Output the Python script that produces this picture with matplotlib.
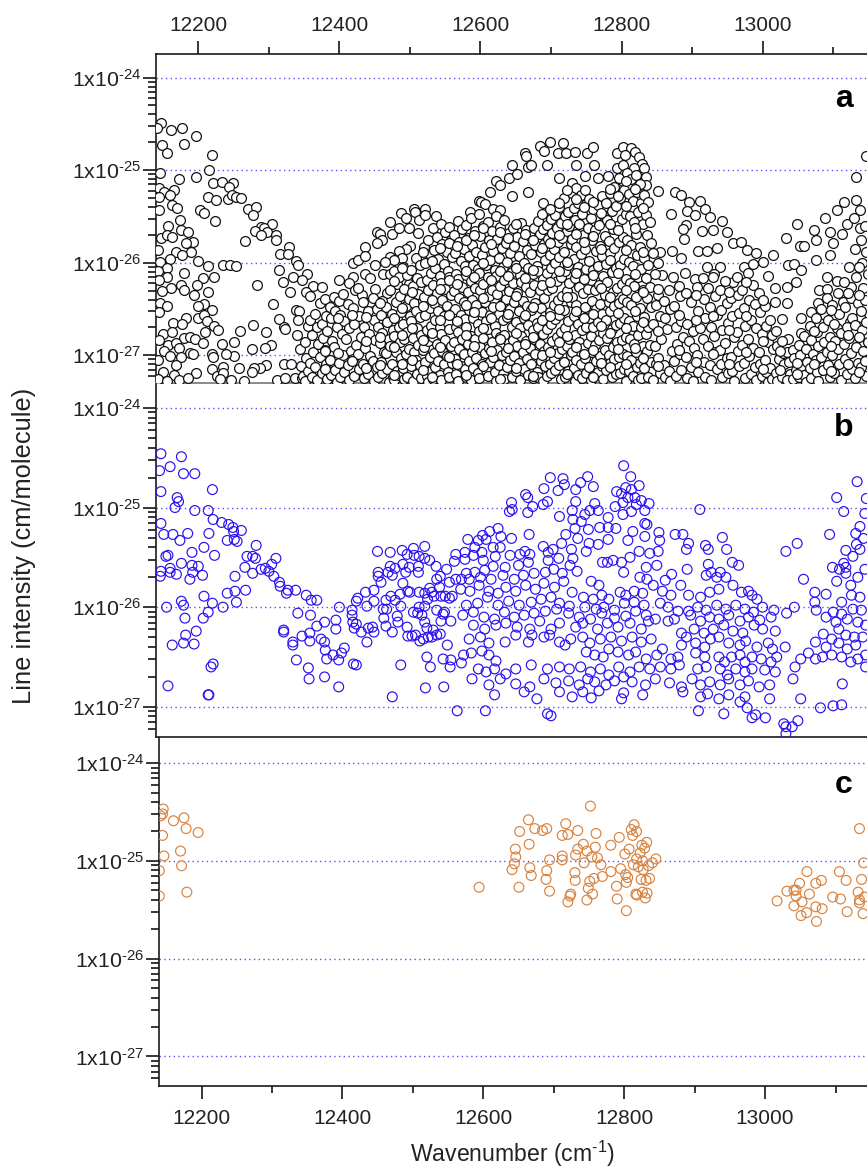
import matplotlib
matplotlib.use('Agg')
import matplotlib.pyplot as plt
from matplotlib.ticker import FixedLocator, LogLocator, NullFormatter

plt.rcParams['font.family'] = ['Liberation Sans', 'DejaVu Sans']
plt.rcParams['mathtext.fontset'] = 'custom'
plt.rcParams['mathtext.rm'] = 'Liberation Sans'
plt.rcParams['mathtext.default'] = 'regular'

# all intensities are stored as log10(cm/molecule)
a_points = [
(12147,-24.49),(12142,-24.55),(12161,-24.57),(12177,-24.54),(12196,-24.63),(12179,-24.72),(12148,-24.73),(12156,-24.82),
(12220,-24.84),(12215,-25.00),(12146,-25.03),(12173,-25.10),(12196,-25.07),(12221,-25.14),(12233,-25.13),(12249,-25.14),
(12243,-25.18),(12166,-25.21),(12144,-25.19),(12151,-25.24),(12144,-25.29),(12160,-25.27),(12214,-25.29),(12225,-25.32),
(12242,-25.31),(12248,-25.27),(12254,-25.29),(12261,-25.30),(12163,-25.38),(12170,-25.41),(12144,-25.43),(12202,-25.43),
(12208,-25.46),(12224,-25.55),(12271,-25.42),(12282,-25.40),(12278,-25.49),(12157,-25.60),(12174,-25.54),(12304,-25.58),
(12289,-25.61),(12293,-25.63),(12280,-25.66),(12297,-25.67),(12289,-25.70),(12310,-25.70),(12175,-25.65),(12185,-25.67),
(12147,-25.73),(12155,-25.70),(12162,-25.72),(12266,-25.77),(12310,-25.76),(12192,-25.78),(12182,-25.79),(12328,-25.83),
(12143,-25.86),(12169,-25.88),(12190,-25.88),(12177,-25.92),(12316,-25.91),(12327,-25.91),(12339,-25.98),(12160,-25.96),
(12146,-25.99),(12200,-25.98),(12342,-26.02),(12214,-26.04),(12235,-26.03),(12245,-26.03),(12254,-26.04),(12155,-26.06),
(12314,-26.08),(12143,-26.09),(12180,-26.11),(12354,-26.12),(12222,-26.16),(12156,-26.16),(12206,-26.17),(12334,-26.15),
(12320,-26.21),(12347,-26.19),(12144,-26.19),(12283,-26.24),(12176,-26.24),(12198,-26.24),(12161,-26.27),(12180,-26.29),
(12148,-26.31),(12330,-26.32),(12214,-26.32),(12194,-26.35),(12363,-26.25),(12375,-26.26),(12352,-26.32),(12358,-26.36),
(12306,-26.45),(12146,-26.44),(12155,-26.47),(12208,-26.45),(12200,-26.47),(12220,-26.51),(12144,-26.53),(12338,-26.51),
(12343,-26.52),(12183,-26.60),(12200,-26.60),(12208,-26.56),(12213,-26.63),(12164,-26.65),(12177,-26.66),(12315,-26.61),
(12341,-26.62),(12277,-26.67),(12222,-26.68),(12321,-26.70),(12323,-26.72),(12228,-26.73),(12209,-26.75),(12259,-26.74),
(12296,-26.75),(12355,-26.68),(12150,-26.77),(12163,-26.75),(12340,-26.78),(12144,-26.84),(12180,-26.81),(12188,-26.80),
(12195,-26.82),(12157,-26.89),(12168,-26.87),(12207,-26.87),(12234,-26.88),(12250,-26.86),(12303,-26.89),(12295,-26.92),
(12276,-26.93),(12151,-26.95),(12172,-26.92),(12188,-26.98),(12193,-26.99),(12219,-26.99),(12250,-27.01),(12143,-27.05),
(12160,-27.01),(12175,-27.02),(12221,-27.02),(12239,-26.99),(12169,-27.11),(12235,-27.13),(12257,-27.14),(12296,-27.11),
(12287,-27.14),(12279,-27.14),(12276,-27.18),(12150,-27.18),(12196,-27.19),(12165,-27.21),(12219,-27.15),(12226,-27.22),
(12235,-27.19),(12143,-27.26),(12155,-27.28),(12173,-27.27),(12186,-27.25),(12231,-27.26),(12247,-27.27),(12265,-27.28),
(12311,-27.27),(12323,-27.25),(12337,-27.25),(12347,-27.25),(12321,-27.09),(12332,-27.09),
(12400,-26.19),(12419,-26.15),(12413,-26.22),(12419,-26.00),(12426,-25.97),(12437,-25.83),(12437,-25.93),(12454,-25.67),
(12457,-25.69),(12460,-25.76),(12454,-25.79),(12472,-25.56),(12474,-25.69),(12484,-25.62),(12488,-25.46),(12495,-25.52),
(12499,-25.63),(12506,-25.42),(12507,-25.45),(12513,-25.54),(12521,-25.42),(12522,-25.49),(12537,-25.50),(12512,-25.68),
(12500,-25.82),(12495,-25.85),(12484,-25.87),(12489,-25.95),(12472,-25.94),(12477,-25.97),(12465,-25.99),(12451,-26.03),
(12436,-26.12),(12444,-26.17),(12462,-26.12),(12472,-26.12),(12451,-26.28),(12422,-26.30),(12432,-26.35),(12444,-26.42),
(12467,-26.33),(12460,-26.41),(12481,-26.23),(12498,-26.23),
(12585,-25.45),(12598,-25.33),(12601,-25.34),(12606,-25.37),(12613,-25.24),(12618,-25.42),(12627,-25.43),(12622,-25.12),
(12628,-25.16),(12641,-25.08),(12652,-25.04),(12644,-24.95),(12668,-24.97),(12672,-24.95),(12663,-24.82),(12665,-24.85),
(12684,-24.74),(12690,-24.79),(12694,-24.95),(12699,-24.70),(12710,-24.81),(12717,-24.71),(12721,-24.81),(12734,-24.80),
(12751,-24.81),(12759,-24.75),(12736,-24.94),(12761,-24.95),(12748,-25.06),(12712,-25.09),(12644,-25.28),(12668,-25.24),
(12689,-25.35),(12730,-25.14),(12767,-25.09),(12781,-25.06),(12794,-24.98),(12793,-24.82),(12802,-24.75),(12813,-24.76),
(12805,-24.84),(12819,-24.80),(12825,-24.86),(12829,-24.93),(12832,-24.98),(12817,-24.98),(12802,-25.12),(12834,-25.07),
(12835,-25.16),(12852,-25.23),(12876,-25.24),(12885,-25.27),(12896,-25.34),(12911,-25.33),(12919,-25.42),(12870,-25.47),
(12893,-25.44),(12904,-25.48),(12925,-25.51),(12943,-25.55),(12892,-25.59),(12887,-25.64),(12888,-25.74),(12914,-25.66),
(12929,-25.65),(12949,-25.67),(12909,-25.87),(12921,-25.87),(12935,-25.84),(12958,-25.79),(12969,-25.78),(12978,-25.86),
(12990,-25.90),(13015,-25.92),(13000,-25.99),(12885,-25.95),(12871,-25.87),(12854,-25.88),(12857,-26.13),(12873,-26.15),
(12890,-26.11),(12904,-26.18),(12921,-26.05),(12939,-26.05),(12958,-26.21),(12973,-26.05),(12987,-26.01),(13008,-26.14),
(13033,-25.73),(13049,-25.58),(13053,-25.82),(13058,-25.82),(13073,-25.65),(13076,-25.76),(13088,-25.52),(13106,-25.43),
(13115,-25.34),(13096,-25.67),(13100,-25.79),(13119,-25.58),(13133,-25.32),(13133,-25.07),(13147,-24.85),(13138,-25.43),
(13129,-25.52),(13138,-25.63),(13112,-25.69),(13096,-25.92),(13076,-25.97),(13036,-26.03),(13045,-26.01),(13054,-26.08),
(13047,-26.21),(13034,-26.26),(13017,-26.27),(13034,-26.44),(13017,-26.42),(13027,-26.61),(13054,-26.60),(13068,-26.53),
(13055,-26.76),(13036,-26.83),(13091,-26.15),(13105,-26.20),(13080,-26.30),(13091,-26.28),(13078,-26.44),(13114,-26.42),
(13126,-26.26),(13088,-26.57),(13105,-26.71),(13124,-26.64),(13138,-26.59),(13145,-26.33),
]

# dense part of panel a, listed per wavenumber column
a_columns = {
12346:[-26.93,-27.12,-27.22],12353:[-26.86,-27.03,-27.17,-27.28],12361:[-26.62,-26.78,-26.97,-27.08,-27.24],
12368:[-26.55,-26.70,-26.88,-27.13,-27.27],12375:[-26.44,-26.66,-26.81,-27.02,-27.19],12381:[-26.39,-26.58,-26.74,-26.94,-27.10,-27.26],
12388:[-26.48,-26.60,-26.85,-27.05,-27.21],12394:[-26.37,-26.52,-26.69,-26.91,-27.16,-27.29],12401:[-26.41,-26.56,-26.77,-27.08,-27.24],
12407:[-26.34,-26.63,-26.83,-27.00,-27.18],12414:[-26.45,-26.71,-26.95,-27.11,-27.27],12421:[-26.49,-26.66,-26.89,-27.04,-27.22],
12428:[-26.27,-26.58,-26.80,-26.99,-27.15],12435:[-26.42,-26.70,-26.92,-27.09,-27.25],12442:[-26.52,-26.77,-27.01,-27.20],
12449:[-26.38,-26.62,-26.84,-27.06,-27.28],12455:[-26.50,-26.69,-26.87,-27.13,-27.23],12461:[-26.57,-26.76,-26.96,-27.07,-27.19],
12468:[-26.48,-26.64,-26.82,-26.98,-27.15,-27.29],12474:[-26.30,-26.55,-26.73,-26.90,-27.10,-27.24],12480:[-26.09,-26.42,-26.61,-26.79,-26.97,-27.17,-27.27],
12486:[-26.16,-26.36,-26.53,-26.70,-26.86,-27.03,-27.21],12492:[-26.05,-26.28,-26.47,-26.66,-26.83,-26.99,-27.14,-27.26],12498:[-26.13,-26.39,-26.58,-26.75,-26.93,-27.09,-27.23],
12504:[-26.08,-26.25,-26.44,-26.63,-26.81,-26.96,-27.12,-27.28],12510:[-25.95,-26.17,-26.34,-26.52,-26.71,-26.89,-27.05,-27.20],12516:[-26.03,-26.21,-26.41,-26.59,-26.78,-26.94,-27.11,-27.25],
12522:[-25.83,-26.00,-26.19,-26.37,-26.56,-26.73,-26.91,-27.07,-27.22],12528:[-25.76,-25.91,-26.11,-26.30,-26.49,-26.68,-26.85,-27.02,-27.17,-27.29],12534:[-25.63,-25.86,-26.06,-26.24,-26.44,-26.62,-26.80,-26.98,-27.13,-27.26],
12540:[-25.72,-25.96,-26.14,-26.33,-26.52,-26.70,-26.88,-27.06,-27.21],12546:[-25.58,-25.80,-26.01,-26.22,-26.40,-26.58,-26.77,-26.95,-27.10,-27.27],12552:[-25.67,-25.89,-26.09,-26.28,-26.47,-26.65,-26.84,-27.01,-27.18],
12558:[-25.61,-25.75,-25.94,-26.15,-26.35,-26.54,-26.72,-26.90,-27.08,-27.24],12564:[-25.70,-25.90,-26.12,-26.31,-26.50,-26.69,-26.86,-27.04,-27.20],12570:[-25.55,-25.78,-25.98,-26.18,-26.38,-26.57,-26.75,-26.93,-27.12,-27.28],
12576:[-25.64,-25.85,-26.04,-26.26,-26.43,-26.61,-26.82,-26.99,-27.15],12582:[-25.59,-25.73,-25.93,-26.13,-26.32,-26.51,-26.70,-26.88,-27.06,-27.23],12588:[-25.52,-25.81,-26.02,-26.20,-26.40,-26.60,-26.79,-26.97,-27.14,-27.27],
12594:[-25.66,-25.88,-26.07,-26.27,-26.46,-26.66,-26.83,-27.03,-27.19],12600:[-25.47,-25.71,-25.92,-26.11,-26.30,-26.53,-26.74,-26.91,-27.09,-27.25],12606:[-25.60,-25.83,-26.03,-26.23,-26.42,-26.63,-26.81,-26.98,-27.16],
12612:[-25.56,-25.76,-25.97,-26.16,-26.36,-26.56,-26.72,-26.92,-27.07,-27.22],12618:[-25.66,-25.87,-26.08,-26.29,-26.48,-26.68,-26.86,-27.02,-27.18],12624:[-25.50,-25.74,-25.95,-26.14,-26.34,-26.55,-26.76,-26.94,-27.11,-27.28],
12630:[-25.61,-25.84,-26.05,-26.25,-26.45,-26.62,-26.80,-27.00,-27.20],12636:[-25.54,-25.79,-25.99,-26.19,-26.39,-26.59,-26.78,-26.96,-27.13,-27.26],12642:[-25.68,-25.90,-26.10,-26.31,-26.50,-26.69,-26.87,-27.05,-27.23],
12648:[-25.63,-25.82,-26.02,-26.22,-26.43,-26.64,-26.84,-27.01,-27.17],12654:[-25.72,-25.93,-26.13,-26.33,-26.52,-26.71,-26.90,-27.08,-27.27],12660:[-25.57,-25.77,-26.00,-26.21,-26.41,-26.60,-26.79,-26.97,-27.15],
12666:[-25.65,-25.86,-26.06,-26.26,-26.47,-26.67,-26.85,-27.04,-27.21],12672:[-25.71,-25.91,-26.12,-26.32,-26.51,-26.73,-26.92,-27.10,-27.25],12678:[-25.62,-25.81,-26.04,-26.24,-26.44,-26.65,-26.83,-26.99,-27.18],
12684:[-25.55,-25.69,-25.89,-26.09,-26.29,-26.49,-26.70,-26.88,-27.06,-27.24],12690:[-25.64,-25.80,-25.97,-26.18,-26.38,-26.58,-26.77,-26.95,-27.12,-27.28],12696:[-25.59,-25.74,-25.92,-26.11,-26.30,-26.53,-26.72,-26.91,-27.09,-27.22],
12702:[-25.53,-25.68,-25.85,-26.06,-26.27,-26.46,-26.66,-26.85,-27.03,-27.19],12708:[-25.48,-25.63,-25.78,-26.00,-26.20,-26.40,-26.61,-26.80,-26.98,-27.16],12714:[-25.40,-25.57,-25.73,-25.94,-26.15,-26.36,-26.56,-26.75,-26.93,-27.11,-27.26],
12720:[-25.30,-25.50,-25.66,-25.88,-26.09,-26.31,-26.51,-26.71,-26.90,-27.07,-27.23],12726:[-25.45,-25.60,-25.80,-26.02,-26.22,-26.43,-26.63,-26.82,-27.00,-27.17],12732:[-25.25,-25.41,-25.54,-25.74,-25.96,-26.17,-26.37,-26.58,-26.78,-26.96,-27.14,-27.28],
12738:[-25.19,-25.35,-25.58,-25.83,-26.05,-26.26,-26.46,-26.66,-26.86,-27.05,-27.21],12744:[-25.27,-25.47,-25.70,-25.91,-26.11,-26.33,-26.54,-26.73,-26.92,-27.10,-27.25],12750:[-25.22,-25.37,-25.62,-25.85,-26.07,-26.28,-26.48,-26.69,-26.87,-27.03,-27.19],
12756:[-25.31,-25.52,-25.76,-25.98,-26.19,-26.41,-26.60,-26.79,-26.97,-27.13,-27.27],12762:[-25.42,-25.65,-25.87,-26.08,-26.30,-26.50,-26.70,-26.89,-27.06,-27.22],12768:[-25.38,-25.59,-25.82,-26.04,-26.24,-26.45,-26.64,-26.84,-27.01,-27.18],
12774:[-25.28,-25.49,-25.71,-25.93,-26.14,-26.35,-26.55,-26.76,-26.94,-27.12,-27.26],12780:[-25.36,-25.54,-25.77,-26.01,-26.21,-26.42,-26.62,-26.81,-27.00,-27.16],12786:[-25.25,-25.44,-25.64,-25.90,-26.10,-26.32,-26.52,-26.72,-26.91,-27.08,-27.24],
12792:[-25.18,-25.39,-25.60,-25.84,-26.06,-26.27,-26.47,-26.67,-26.86,-27.04,-27.20],12798:[-25.08,-25.30,-25.53,-25.78,-26.02,-26.23,-26.44,-26.65,-26.84,-27.02,-27.19],12804:[-24.95,-25.21,-25.47,-25.72,-25.96,-26.18,-26.39,-26.60,-26.80,-26.99,-27.15,-27.28],
12810:[-25.03,-25.26,-25.50,-25.76,-25.99,-26.22,-26.43,-26.63,-26.83,-27.01,-27.17],12816:[-25.10,-25.33,-25.56,-25.81,-26.04,-26.25,-26.46,-26.68,-26.88,-27.05,-27.22],12822:[-25.05,-25.24,-25.45,-25.69,-25.92,-26.16,-26.37,-26.58,-26.78,-26.96,-27.13,-27.27],
12828:[-25.15,-25.35,-25.58,-25.83,-26.07,-26.29,-26.49,-26.70,-26.90,-27.08,-27.25],12834:[-25.27,-25.48,-25.70,-25.95,-26.17,-26.38,-26.59,-26.77,-26.95,-27.14],12840:[-25.34,-25.56,-25.79,-26.03,-26.26,-26.48,-26.69,-26.89,-27.07,-27.23],
12847:[-25.90,-26.12,-26.46,-26.66,-26.90,-27.10,-27.27],12854:[-26.35,-26.58,-26.82,-27.03,-27.19],12862:[-26.41,-26.60,-26.72,-27.11,-27.24],12869:[-26.30,-26.50,-26.95,-27.17,-27.28],
12877:[-26.47,-26.70,-26.88,-27.06,-27.22],12885:[-26.36,-26.63,-26.80,-26.99,-27.16],12893:[-26.33,-26.66,-26.85,-27.02,-27.25],12901:[-26.43,-26.74,-26.92,-27.13,-27.28],
12909:[-26.26,-26.52,-26.71,-27.00,-27.18],12917:[-26.17,-26.39,-26.60,-26.83,-27.07,-27.24],12925:[-26.27,-26.48,-26.69,-26.90,-27.11,-27.27],12933:[-26.12,-26.36,-26.56,-26.79,-26.97,-27.15],
12941:[-26.30,-26.51,-26.73,-26.94,-27.09,-27.23],12949:[-26.20,-26.44,-26.65,-26.87,-27.03,-27.19],12957:[-26.38,-26.58,-26.80,-27.02,-27.17,-27.28],12965:[-26.16,-26.35,-26.54,-26.75,-26.95,-27.12],
12973:[-26.29,-26.49,-26.68,-26.89,-27.08,-27.25],12981:[-26.11,-26.40,-26.62,-26.83,-27.01,-27.20],12989:[-26.24,-26.45,-26.71,-26.92,-27.13,-27.27],12997:[-26.33,-26.53,-26.77,-26.97,-27.10,-27.22],
13005:[-26.47,-26.68,-26.86,-27.05,-27.18,-27.29],13013:[-26.62,-26.78,-26.93,-27.14,-27.26],13021:[-26.74,-26.90,-27.04,-27.19,-27.28],13029:[-26.85,-26.98,-27.10,-27.23],
13037:[-26.97,-27.07,-27.20,-27.27],13045:[-26.94,-27.03,-27.16,-27.26],13053:[-26.89,-27.00,-27.12,-27.24],13061:[-26.79,-26.93,-27.07,-27.21,-27.29],
13069:[-26.68,-26.84,-26.99,-27.14,-27.25],13077:[-26.60,-26.75,-26.90,-27.05,-27.18,-27.28],13085:[-26.50,-26.69,-26.86,-27.02,-27.16],13093:[-26.38,-26.62,-26.80,-26.96,-27.11,-27.24],
13101:[-26.46,-26.66,-26.85,-27.00,-27.19],13109:[-26.33,-26.55,-26.76,-26.93,-27.09,-27.27],13117:[-26.21,-26.48,-26.70,-26.88,-27.04,-27.20],13125:[-26.05,-26.38,-26.60,-26.81,-26.98,-27.15],
13133:[-25.85,-26.15,-26.44,-26.67,-26.91,-27.08,-27.25],13141:[-25.75,-26.00,-26.27,-26.52,-26.73,-26.95,-27.13],13147:[-25.60,-25.88,-26.12,-26.40,-26.64,-26.86,-27.06,-27.22],
}

# more lines in the crowded band of panel a
a_columns_more = {
12503:[-26.32,-26.71,-27.05],12519:[-25.89,-26.47,-26.84,-27.16],12531:[-25.98,-26.40,-26.76,-27.24],12543:[-25.84,-26.28,-26.62,-26.91],
12555:[-25.79,-26.19,-26.57,-27.02],12567:[-25.82,-26.23,-26.63,-27.10],12579:[-25.75,-26.09,-26.46,-26.78,-27.21],12591:[-25.70,-26.15,-26.53,-26.90],
12603:[-25.62,-26.00,-26.38,-26.71,-27.12],12615:[-25.80,-26.19,-26.60,-26.95],12627:[-25.67,-26.09,-26.47,-26.83,-27.26],12639:[-25.73,-26.14,-26.55,-26.92],
12651:[-25.58,-26.06,-26.36,-26.76,-27.14],12663:[-25.69,-26.17,-26.56,-26.88],12675:[-25.76,-26.08,-26.48,-26.80,-27.22],12687:[-25.47,-25.84,-26.24,-26.62,-27.00],
12699:[-25.42,-25.79,-26.21,-26.58,-26.97],12711:[-25.36,-25.70,-26.09,-26.50,-26.86],12723:[-25.22,-25.58,-25.99,-26.37,-26.79,-27.20],12735:[-25.31,-25.69,-26.11,-26.52,-26.91],
12747:[-25.40,-25.78,-26.18,-26.60,-26.99],12759:[-25.34,-25.71,-26.13,-26.55,-26.94,-27.24],12771:[-25.46,-25.85,-26.27,-26.68,-27.08],12783:[-25.20,-25.58,-25.97,-26.37,-26.76,-27.13],
12795:[-25.28,-25.65,-26.11,-26.54,-26.93],12807:[-25.12,-25.39,-25.86,-26.30,-26.71,-27.10],12819:[-25.20,-25.63,-26.12,-26.52,-26.92],12831:[-25.41,-25.88,-26.32,-26.64,-27.03],
12380:[-26.95,-27.15],12398:[-26.60,-26.98],12418:[-26.56,-27.06],12438:[-26.59,-26.85,-27.14],12458:[-26.44,-26.80,-27.11],12477:[-26.20,-26.60,-26.91,-27.21],12489:[-26.06,-26.49,-26.78,-27.09],
12851:[-26.00,-26.28,-26.74,-27.12],12881:[-26.25,-26.57,-26.94],12905:[-26.35,-26.62,-27.07],12929:[-26.15,-26.58,-26.99],12953:[-26.32,-26.73,-27.10],12977:[-26.21,-26.58,-26.96],
13000:[-26.40,-26.85,-27.15],13025:[-26.95,-27.16],13049:[-27.08,-27.20],13073:[-26.74,-27.10],13097:[-26.51,-26.90,-27.17],13121:[-26.33,-26.78,-27.10],13137:[-26.05,-26.35,-26.80,-27.18],
}

b_points = [
(12147,-24.46),(12145,-24.63),(12160,-24.59),(12176,-24.49),(12179,-24.66),(12195,-24.66),(12147,-24.84),(12170,-24.90),
(12172,-24.94),(12167,-25.00),(12195,-25.03),(12220,-24.82),(12214,-25.03),(12221,-25.12),(12233,-25.15),(12243,-25.17),
(12249,-25.20),(12250,-25.24),(12261,-25.23),(12241,-25.33),(12251,-25.32),(12255,-25.34),(12282,-25.38),(12147,-25.16),
(12151,-25.27),(12164,-25.27),(12174,-25.33),(12185,-25.26),(12215,-25.26),(12208,-25.40),(12191,-25.45),(12223,-25.48),
(12154,-25.49),(12157,-25.48),(12176,-25.56),(12191,-25.58),(12200,-25.59),(12160,-25.61),(12147,-25.64),(12146,-25.69),
(12160,-25.65),(12169,-25.67),(12192,-25.65),(12188,-25.72),(12206,-25.68),(12269,-25.49),(12277,-25.49),(12281,-25.51),
(12266,-25.60),(12277,-25.66),(12289,-25.62),(12295,-25.61),(12310,-25.51),(12304,-25.57),(12300,-25.64),(12307,-25.69),
(12315,-25.75),(12316,-25.79),(12325,-25.86),(12327,-25.83),(12338,-25.83),(12353,-25.88),(12360,-25.93),(12368,-25.93),
(12252,-25.69),(12241,-25.86),(12252,-25.84),(12267,-25.83),(12254,-25.95),(12235,-26.00),(12208,-25.89),(12220,-25.96),
(12176,-25.94),(12179,-25.98),(12155,-26.00),(12214,-26.05),(12207,-26.11),(12181,-26.11),(12197,-26.24),(12182,-26.28),
(12179,-26.36),(12163,-26.38),(12194,-26.37),(12221,-26.57),(12218,-26.60),(12157,-26.79),(12214,-26.88),(12215,-26.88),
(12321,-26.23),(12321,-26.25),(12341,-26.06),(12359,-26.08),(12368,-26.19),(12379,-26.15),(12358,-26.26),(12347,-26.29),
(12358,-26.34),(12334,-26.35),(12334,-26.38),(12374,-26.32),(12379,-26.35),(12380,-26.43),(12382,-26.52),(12391,-26.48),
(12403,-26.46),(12407,-26.41),(12399,-26.53),(12339,-26.53),(12356,-26.61),(12357,-26.72),(12379,-26.70),(12399,-26.80),
(12395,-26.13),(12395,-26.22),(12400,-26.00),(12418,-26.03),(12418,-26.08),(12419,-26.15),(12421,-26.21),(12424,-26.17),
(12431,-26.25),(12439,-26.35),(12441,-26.21),(12449,-26.25),(12447,-26.20),(12420,-26.57),(12424,-26.58),(12426,-25.91),
(12424,-25.94),(12437,-25.85),(12439,-25.99),(12449,-25.94),(12449,-25.83),(12454,-25.44),(12455,-25.65),(12455,-25.69),
(12459,-25.75),(12472,-25.45),(12466,-25.93),(12462,-26.02),(12467,-26.02),(12463,-26.11),(12466,-26.19),(12475,-26.25),
(12482,-26.09),(12483,-26.15),(12473,-25.89),(12479,-25.93),(12486,-25.87),(12490,-25.76),(12469,-25.65),(12472,-25.59),
(12475,-25.68),(12479,-25.61),(12490,-25.57),(12489,-25.43),(12496,-25.47),(12494,-25.65),(12499,-25.60),(12505,-25.41),
(12506,-25.48),(12513,-25.49),(12521,-25.39),(12521,-25.51),(12528,-25.53),(12537,-25.59),(12512,-25.59),(12512,-25.65),
(12500,-25.85),(12497,-25.84),(12513,-25.85),(12521,-25.86),(12487,-25.99),(12505,-26.05),(12511,-26.06),(12517,-26.08),
(12521,-25.99),(12513,-26.00),(12521,-26.15),(12496,-26.20),(12497,-26.29),(12503,-26.29),(12508,-26.28),(12514,-26.34),
(12519,-26.32),(12526,-26.30),(12531,-26.30),(12538,-26.28),(12543,-26.27),(12524,-26.21),(12533,-26.23),(12538,-26.03),
(12553,-26.38),(12524,-26.50),(12529,-26.60),(12547,-26.52),(12558,-26.53),(12557,-26.60),(12487,-26.58),(12522,-26.81),
(12548,-26.80),(12475,-26.90),(12567,-27.04),(12528,-25.81),(12538,-25.72),(12543,-25.69),(12552,-25.62),(12563,-25.54),
(12565,-25.47),(12556,-25.75),(12565,-25.72),(12550,-25.89),(12560,-25.89),(12544,-25.89),(12534,-25.89),(12525,-25.92),
(12531,-25.85),(12542,-25.80),(12556,-25.91),(12547,-26.07),(12558,-26.14),(12544,-26.14),(12549,-26.05),
(12803,-24.58),(12813,-24.69),(12825,-24.78),(12699,-24.70),(12717,-24.71),(12719,-24.77),(12690,-24.81),(12710,-24.83),
(12735,-24.82),(12742,-24.75),(12752,-24.69),(12760,-24.79),(12664,-24.87),(12667,-24.90),(12644,-24.95),(12645,-25.02),
(12641,-25.04),(12695,-24.94),(12689,-24.97),(12674,-24.99),(12667,-25.05),(12735,-24.94),(12762,-24.96),(12793,-24.84),
(12806,-24.80),(12814,-24.82),(12800,-24.86),(12809,-24.90),(12819,-24.90),(12828,-24.93),(12839,-24.96),(12821,-24.97),
(12802,-24.95),(12791,-24.99),(12833,-25.03),(12802,-25.07),(12814,-25.04),(12755,-25.03),(12767,-25.03),(12730,-25.03),
(12748,-25.07),(12712,-25.09),(12781,-25.10),(12731,-25.12),(12743,-25.14),(12734,-25.21),(12753,-25.22),(12769,-25.20),
(12781,-25.20),(12792,-25.21),(12833,-25.16),(12836,-25.17),(12911,-25.02),(12625,-25.21),(12613,-25.24),(12603,-25.28),
(12582,-25.32),(12629,-25.29),(12644,-25.31),(12669,-25.27),(12721,-25.27),(12738,-25.31),(12754,-25.36),(12767,-25.37),
(12781,-25.32),(12816,-25.24),(12833,-25.29),(12853,-25.25),(12876,-25.27),(12887,-25.27),(12943,-25.30),(12854,-25.33),
(12809,-25.33),(12597,-25.33),(12608,-25.32),(12895,-25.36),(12919,-25.38),(12923,-25.42),(12949,-25.42),(12892,-25.42),
(12852,-25.44),(13033,-25.44),(13049,-25.36),(13095,-25.27),(13134,-24.74),(13105,-24.90),(13115,-25.04),(13147,-24.91),
(13145,-25.06),(13138,-25.19),(13132,-25.26),(13133,-25.37),(13143,-25.31),(13118,-25.43),(13128,-25.49),(13115,-25.56),
(13138,-25.42),
(12592,-25.40),(12578,-25.45),(12602,-25.45),(12618,-25.40),(12628,-25.40),(12590,-25.48),(12578,-25.52),(12604,-25.53),
(12621,-25.49),(12642,-25.48),(12656,-25.47),(12670,-25.47),(12663,-25.44),(12689,-25.39),(12696,-25.45),(12703,-25.42),
(12715,-25.36),(12729,-25.42),(12750,-25.44),(12711,-25.51),(12731,-25.51),(12696,-25.53),(12668,-25.55),(12654,-25.58),
(12635,-25.60),(12618,-25.59),(12606,-25.63),(12592,-25.65),(12580,-25.66),(12573,-25.72),(12584,-25.72),(12600,-25.70),
(12615,-25.72),(12632,-25.68),(12648,-25.72),(12661,-25.68),(12676,-25.66),(12692,-25.65),(12704,-25.62),(12716,-25.66),
(12727,-25.58),(12737,-25.64),(12757,-25.74),(12768,-25.78),(12773,-25.55),(12780,-25.55),(12788,-25.53),(12800,-25.55),
(12812,-25.50),(12825,-25.44),(12840,-25.46),(12803,-25.65),(12835,-25.60),(12850,-25.58),(12862,-25.73),(12826,-25.70),
(12836,-25.72),(12871,-25.67),(12893,-25.62),(12923,-25.57),(12927,-25.65),(12940,-25.65),(12957,-25.55),(12966,-25.58),
(12920,-25.68),(12935,-25.70),(12948,-25.70),(12572,-25.82),(12585,-25.84),(12598,-25.78),(12612,-25.84),(12625,-25.86),
(12636,-25.80),(12650,-25.84),(12664,-25.78),(12678,-25.82),(12690,-25.76),(12705,-25.80),(12718,-25.74),(12730,-25.85),
(12746,-25.90),(12760,-25.92),(12772,-25.88),(12782,-25.92),(12798,-25.85),(12806,-25.88),(12818,-25.84),(12830,-25.86),
(12845,-25.78),(12858,-25.84),(12870,-25.88),(12884,-25.78),(12895,-25.88),(12912,-25.90),(12925,-25.85),(12938,-25.82),
(12958,-25.78),(12970,-25.85),(12980,-25.84),(12985,-25.88),(12992,-25.92),(12580,-25.98),(12596,-25.96),(12610,-25.90),
(12625,-25.98),(12640,-25.94),(12655,-25.98),(12672,-25.95),(12686,-25.92),(12700,-25.90),(12712,-25.96),(12726,-25.99),
(12748,-26.00),(12764,-26.02),(12775,-26.00),(12790,-26.03),(12804,-25.96),(12818,-25.95),(12832,-25.98),(12855,-25.96),
(12866,-26.00),(12880,-26.04),(12895,-26.04),(12908,-26.00),(12920,-26.03),(12935,-25.98),(12948,-26.02),(12962,-25.98),
(12975,-26.02),(12987,-26.05),(13000,-26.00),(13016,-26.03),(13034,-26.06),(13045,-26.00),(13058,-25.72),(13074,-25.85),
(13074,-25.95),(13076,-26.03),(13090,-25.87),(13099,-25.60),(13109,-25.62),(13118,-25.60),(13118,-25.66),(13105,-25.74),
(13125,-25.78),(13135,-25.70),(13145,-25.62),(13126,-25.88),(13138,-25.90),(13112,-25.95),(13100,-26.05),(13112,-26.07),
(13128,-26.02),(13140,-26.03),(13090,-26.10),(13104,-26.15),(13120,-26.12),(13135,-26.15),(13146,-26.18),(13086,-26.27),
(13098,-26.32),(13108,-26.22),(13118,-26.28),(13130,-26.30),(13142,-26.30),(13075,-26.35),(13090,-26.40),(13108,-26.36),
(13120,-26.42),(13132,-26.38),(13146,-26.48),(13065,-26.46),(13075,-26.52),(13085,-26.50),(13098,-26.48),(13112,-26.50),
(13125,-26.55),(13135,-26.52),(13146,-26.60),(13113,-26.77),(13054,-26.52),(13046,-26.60),(13043,-26.72),
(12575,-26.08),(12590,-26.05),(12605,-26.10),(12620,-26.12),(12634,-26.05),(12648,-26.10),(12662,-26.08),(12676,-26.06),
(12692,-26.04),(12708,-26.02),(12725,-26.06),(12740,-26.10),(12756,-26.12),(12772,-26.06),(12790,-26.11),(12806,-26.09),
(12820,-26.04),(12835,-26.08),(12848,-26.12),(12866,-26.14),(12898,-26.08),(12912,-26.14),(12925,-26.10),(12938,-26.12),
(12952,-26.08),(12968,-26.14),(12980,-26.10),(12996,-26.13),(13012,-26.10),(12590,-26.18),(12606,-26.22),(12622,-26.18),
(12636,-26.16),(12652,-26.20),(12670,-26.22),(12684,-26.14),(12700,-26.22),(12712,-26.16),(12735,-26.20),(12745,-26.16),
(12766,-26.22),(12780,-26.16),(12795,-26.20),(12812,-26.16),(12828,-26.22),(12838,-26.14),(12875,-26.12),(12885,-26.26),
(12903,-26.22),(12917,-26.26),(12930,-26.22),(12945,-26.18),(12958,-26.24),(12972,-26.26),(12988,-26.18),(13000,-26.22),
(13018,-26.24),(12584,-26.32),(12600,-26.30),(12612,-26.36),(12635,-26.35),(12650,-26.28),(12668,-26.35),(12673,-26.28),
(12690,-26.30),(12698,-26.28),(12712,-26.35),(12720,-26.38),(12728,-26.32),(12745,-26.30),(12755,-26.36),(12770,-26.32),
(12785,-26.30),(12800,-26.34),(12815,-26.30),(12828,-26.35),(12842,-26.32),(12885,-26.38),(12892,-26.30),(12905,-26.36),
(12918,-26.40),(12926,-26.32),(12938,-26.30),(12952,-26.36),(12968,-26.38),(12976,-26.34),(12992,-26.40),(13008,-26.36),
(13014,-26.42),(13032,-26.40),(12576,-26.48),(12587,-26.46),(12602,-26.44),(12612,-26.48),(12622,-26.54),(12750,-26.45),
(12762,-26.48),(12774,-26.50),(12782,-26.42),(12795,-26.45),(12810,-26.48),(12820,-26.45),(12835,-26.52),(12850,-26.48),
(12858,-26.42),(12870,-26.52),(12880,-26.50),(12905,-26.46),(12918,-26.50),(12938,-26.50),(12946,-26.55),(12956,-26.50),
(12968,-26.48),(12975,-26.55),(12985,-26.50),(12998,-26.52),(13012,-26.55),(13020,-26.50),(12573,-26.56),(12597,-26.62),
(12608,-26.65),(12620,-26.62),(12636,-26.67),(12650,-26.62),(12672,-26.58),(12695,-26.62),(12712,-26.60),(12726,-26.62),
(12742,-26.60),(12756,-26.65),(12770,-26.62),(12782,-26.68),(12796,-26.60),(12812,-26.65),(12825,-26.60),(12840,-26.62),
(12855,-26.60),(12870,-26.62),(12882,-26.58),(12908,-26.62),(12920,-26.60),(12940,-26.62),(12950,-26.68),(12962,-26.62),
(12975,-26.65),(12985,-26.62),(13003,-26.63),(13018,-26.65),(12588,-26.72),(12612,-26.78),(12628,-26.72),(12650,-26.77),
(12670,-26.80),(12690,-26.72),(12707,-26.76),(12725,-26.74),(12740,-26.78),(12752,-26.72),(12762,-26.75),(12778,-26.78),
(12790,-26.74),(12803,-26.70),(12815,-26.75),(12834,-26.78),(12848,-26.72),(12868,-26.76),(12885,-26.80),(12900,-26.72),
(12912,-26.78),(12925,-26.75),(12940,-26.78),(12952,-26.72),(12968,-26.78),(12980,-26.74),(12995,-26.80),(13010,-26.78),
(12620,-26.88),(12662,-26.85),(12680,-26.92),(12712,-26.85),(12730,-26.90),(12745,-26.85),(12757,-26.91),(12768,-26.84),
(12800,-26.92),(12803,-26.86),(12830,-26.88),(12887,-26.85),(12912,-26.90),(12922,-26.87),(12938,-26.92),(12952,-26.88),
(12968,-26.95),(12975,-26.90),(13010,-26.92),(13054,-26.92),(13082,-27.01),(13100,-26.99),(13112,-26.98),
(12607,-27.04),(12695,-27.07),(12700,-27.09),(12909,-27.04),(12945,-27.07),(12978,-27.01),(12985,-27.11),(12990,-27.08),
(13030,-27.17),(13033,-27.20),(13042,-27.20),(13050,-27.14),(13004,-27.11),(13033,-27.27),
]

c_points = [
(12145.5,-24.47),(12144.5,-24.52),(12141.7,-24.54),(12160,-24.59),(12175,-24.56),(12178,-24.67),(12195,-24.71),(12144.5,-24.74),
(12170,-24.90),(12146.5,-24.95),(12171.5,-25.05),(12140,-25.10),(12179,-25.32),(12140,-25.36),
(12594,-25.27),(12650.6,-25.27),(12640.7,-25.09),(12644,-25.03),(12646,-24.96),(12645.4,-24.88),(12651.5,-24.70),(12664,-24.58),
(12665,-24.83),(12673,-24.67),(12684,-24.69),(12690,-24.67),(12666,-25.07),(12668,-25.15),(12694,-24.99),(12690,-25.10),
(12689,-25.19),(12694,-25.31),(12712,-24.74),(12720,-24.73),(12717,-24.62),(12734,-24.69),(12712,-24.95),(12712,-24.99),
(12731,-24.94),(12734,-24.88),(12742,-24.83),(12747,-24.90),(12743,-25.02),(12754,-24.96),(12759,-24.86),(12760,-24.72),
(12752,-24.44),(12762,-24.97),(12767,-25.04),(12730,-25.12),(12730.5,-25.20),(12757,-25.18),(12751,-25.21),(12749,-25.28),
(12755,-25.34),(12747,-25.40),(12724,-25.34),(12723,-25.36),(12720,-25.42),(12769,-25.16),(12781,-24.84),(12793,-24.76),
(12781,-25.11),(12795,-25.08),(12802,-25.14),(12805,-25.17),(12803,-25.22),(12789,-25.26),(12790,-25.39),(12803,-25.51),
(12801,-24.93),(12807,-24.88),(12814,-24.63),(12810,-24.68),(12817.5,-24.70),(12812,-24.74),(12832,-24.81),(12825,-24.84),
(12829,-24.87),(12822.5,-24.92),(12817.5,-24.98),(12813,-25.04),(12820,-25.06),(12826,-25.00),(12827,-25.09),(12834.5,-25.05),
(12840,-25.02),(12845,-24.98),(12824,-25.19),(12831,-25.20),(12836,-25.18),(12816.5,-25.34),(12818,-25.35),(12826,-25.32),
(12832.5,-25.33),(12830,-25.38),
(13017,-25.41),(13031,-25.31),(13041,-25.30),(13044,-25.30),(13044,-25.36),(13049,-25.23),(13052.5,-25.42),(13041,-25.46),
(13051,-25.56),(13059,-25.53),(13063,-25.34),(13059.5,-25.11),(13072,-25.23),(13080,-25.20),(13072,-25.47),(13081,-25.49),
(13073,-25.62),(13096,-25.37),(13107,-25.39),(13105.5,-25.11),(13115,-25.20),(13116.5,-25.52),(13132,-25.32),(13137,-25.19),
(13140,-25.02),(13134,-24.67),(13134,-25.40),(13134,-25.43),(13139,-25.54),(13141,-25.37),
]

major_wn = [12200, 12400, 12600, 12800, 13000]
minor_wn = [12300, 12500, 12700, 12900, 13100]
decades = [-27, -26, -25, -24]
panel_names = ['a', 'b', 'c']

W, H = 867, 1168


def make_axes(left, top, bottom):
    return fig.add_axes([left / W, 1 - bottom / H, (W - left) / W, (bottom - top) / H])


def setup(ax, xlim, ylim, name, name_wn, name_y):
    ax.set_xscale('linear')
    ax.set_yscale('log')
    ax.set_xlim(*xlim)
    ax.set_ylim(10.0 ** ylim[0], 10.0 ** ylim[1])
    for d in decades:
        ax.axhline(10.0 ** d, color='#5a4dff', lw=1.0, ls=(0, (1, 2.4)), zorder=1)
    ax.yaxis.set_major_locator(FixedLocator([10.0 ** d for d in decades]))
    ax.set_yticklabels(['1x10$^{\\text{%d}}$' % d for d in decades], fontsize=15.3, color='#222222')
    ax.yaxis.set_minor_locator(LogLocator(base=10, subs=range(2, 10), numticks=30))
    ax.yaxis.set_minor_formatter(NullFormatter())
    ax.tick_params(axis='y', which='major', length=9.5, width=1.1, pad=1)
    ax.tick_params(axis='y', which='minor', length=5.5, width=1.1)
    ax.spines['right'].set_visible(False)
    for s in ax.spines.values():
        s.set_linewidth(1.2)
        s.set_color('#1a1a1a')
    ax.set_xticks(major_wn)
    ax.set_xticks(minor_wn, minor=True)
    ax.text(name_wn, 10.0 ** name_y, name, fontsize=23, fontweight='bold', ha='center', va='center', zorder=5)


fig = plt.figure(figsize=(W / 100, H / 100), dpi=100)

ax_c = make_axes(159, 736.7, 1085.7)
ax_b = make_axes(156, 383, 736.7)
ax_a = make_axes(156, 53.5, 383)

# panel a, open circles that hide each other
a_wn = [p[0] for p in a_points]
a_log = [p[1] for p in a_points]
for wn, logs in a_columns.items():
    for i, v in enumerate(logs):
        # alternate around the column so the rows do not line up
        a_wn.append(wn + (i % 3 - 1) * 2)
        a_log.append(v)
for wn, logs in a_columns_more.items():
    for v in logs:
        a_wn.append(wn)
        a_log.append(v)
setup(ax_a, (12140, 13148), (-27.30, -23.74), panel_names[0], 13115, -24.23)
ax_a.scatter(a_wn, [10.0 ** v for v in a_log], s=50, facecolors='white', edgecolors='#111111', linewidths=0.9, zorder=3)
ax_a.xaxis.tick_top()
ax_a.tick_params(axis='x', which='major', length=9.5, width=1.1, pad=3.5, labelsize=15, labelcolor='#222222')
ax_a.tick_params(axis='x', which='minor', length=5, width=1.1)
ax_a.spines['bottom'].set_color('#777777')

# panel b
setup(ax_b, (12140, 13148), (-27.30, -23.75), panel_names[1], 13115, -24.20)
ax_b.scatter([p[0] for p in b_points], [10.0 ** p[1] for p in b_points], s=50, facecolors='none',
             edgecolors='#2a10ee', linewidths=0.85, zorder=3)
ax_b.tick_params(axis='x', which='both', bottom=False, top=False, labelbottom=False)
ax_b.spines['top'].set_visible(False)

# panel c
setup(ax_c, (12139.5, 13144.7), (-27.30, -23.73), panel_names[2], 13112, -24.22)
ax_c.scatter([p[0] for p in c_points], [10.0 ** p[1] for p in c_points], s=50, facecolors='none',
             edgecolors='#d9823e', linewidths=0.85, zorder=3)
ax_c.tick_params(axis='x', which='major', length=9.5, width=1.1, pad=7, labelsize=15, labelcolor='#222222')
ax_c.tick_params(axis='x', which='minor', length=5, width=1.1)
ax_c.spines['top'].set_visible(False)
ax_c.set_xlabel('Wavenumber (cm$^{\\text{-1}}$)', fontsize=16.6, color='#222222')
ax_c.xaxis.set_label_coords((512 - 159) / (W - 159), -53 / (1085.7 - 736.7))

fig.text(24 / W, 1 - 546 / H, 'Line intensity (cm/molecule)', rotation=90, fontsize=18.4,
         color='#222222', ha='center', va='center')

fig.savefig('out.png', dpi=100)
